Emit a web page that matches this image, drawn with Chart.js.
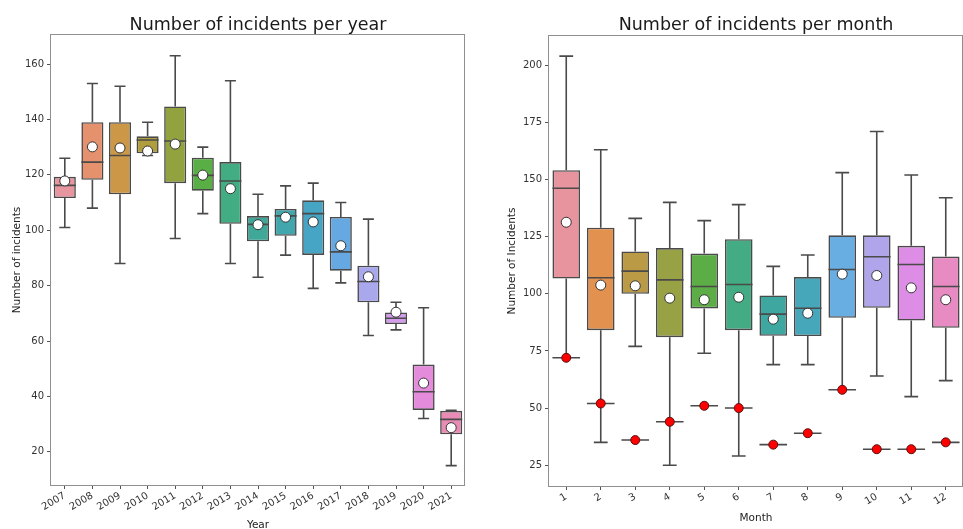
<!DOCTYPE html>
<html>
<head>
<meta charset="utf-8">
<script src="https://cdn.jsdelivr.net/npm/chart.js@4/dist/chart.umd.min.js"></script>
<style>
  html, body { margin: 0; padding: 0; background: #ffffff; width: 963px; height: 529px; overflow: hidden; }
  .panel { position: absolute; top: 0; }
</style>
</head>
<body>
<div class="panel" style="left:0px"><canvas id="yearChart" width="480" height="529"></canvas></div>
<div class="panel" style="left:480px"><canvas id="monthChart" width="483" height="529"></canvas></div>
<script>
// ---- incidents per year: box statistics ----
const years = ['2007','2008','2009','2010','2011','2012','2013','2014','2015','2016','2017','2018','2019','2020','2021'];
const yearLow    = [101, 108,  88, 127,  97, 106,  88,  83,  91,  79,  81,  62,  64,  32,  15];
const yearQ1     = [111.6, 118.2, 113, 127.8, 117, 114.3, 102.3, 96, 98, 91.1, 85.4, 74, 66.1, 35.1, 26.3];
const yearMedian = [116.2, 124.6, 127, 132.6, 132.2, 119.8, 117.8, 102.1, 105.2, 106, 92.2, 81.5, 68.2, 41.7, 31.7];
const yearQ3     = [119.3, 139, 139, 133.9, 144.7, 126.2, 124.6, 105.1, 107.7, 110.8, 104.8, 87.2, 70.3, 51.5, 34.8];
const yearHigh   = [126, 153, 152, 139, 163, 130, 154, 113, 116, 117, 110, 104, 74, 72, 35];
const yearMean   = [117.8, 130.1, 129.7, 128.6, 131.1, 119.9, 115, 102, 104.7, 103, 94.4, 83.2, 70.4, 44.8, 28.7];
const yearTicks  = [20, 40, 60, 80, 100, 120, 140, 160];
const yearColors = ['#E7969F','#E6916D','#CC9848','#B09D3E','#92A23F','#5AAE46','#42AC83','#3FA899',
                    '#41A7AD','#46A4C4','#65A8E2','#AAA8EC','#D49CEC','#E58BDC','#E88BB5'];

// ---- incidents per month: box statistics ----
const months      = ['1','2','3','4','5','6','7','8','9','10','11','12'];
const monthLow    = [72, 35, 77, 25, 74, 29, 69, 69, 58, 64, 55, 62];
const monthQ1     = [106.7, 84.1, 100, 81, 93.6, 84.1, 81.6, 81.5, 89.5, 93.9, 88.3, 85.1];
const monthMedian = [146.2, 107, 109.9, 106.1, 103.2, 104.1, 91.1, 93.7, 110.6, 116.2, 112.8, 103.2];
const monthQ3     = [154.1, 128.9, 118.5, 120, 117.6, 123.9, 99.3, 107.3, 125.6, 125.6, 121, 116.3];
const monthHigh   = [204, 163, 133, 140, 132, 139, 112, 117, 153, 171, 152, 142];
const monthMean   = [131.3, 103.8, 103.5, 98.1, 97.4, 98.5, 88.9, 91.5, 108.6, 108, 102.6, 97.4];
const month2021   = [72, 52, 36, 44, 51, 50, 34, 39, 58, 32, 32, 35];
const monthTicks  = [25, 50, 75, 100, 125, 150, 175, 200];
const monthColors = ['#E8949F','#E3914F','#BA9A44','#98A143','#5DAD46','#44AC85','#3EA7A0','#46A6BA',
                     '#69AEE2','#B0A4EA','#DE8DE6','#E78BC2'];

const LINE = '#4a4a4a';
const FONT = 'DejaVu Sans';

// Whiskers, caps, medians and single-value boxes, drawn right after the boxes
const boxParts = {
  id: 'boxParts',
  afterDatasetDraw(chart, args, opts) {
    if (args.index !== 0) return;
    const ctx = chart.ctx;
    const y = chart.scales.y;
    const meta = chart.getDatasetMeta(0);
    ctx.save();
    ctx.strokeStyle = LINE;
    ctx.lineWidth = 1.6;
    ctx.lineCap = 'butt';
    meta.data.forEach((bar, i) => {
      const cx = bar.x, w = bar.width, half = w / 2, cap = w / 4;
      const pLow = y.getPixelForValue(opts.low[i]);
      const pQ1 = y.getPixelForValue(opts.q1[i]);
      const pMed = y.getPixelForValue(opts.median[i]);
      const pQ3 = y.getPixelForValue(opts.q3[i]);
      const pHigh = y.getPixelForValue(opts.high[i]);
      ctx.beginPath();
      ctx.moveTo(cx, pQ1); ctx.lineTo(cx, pLow);
      ctx.moveTo(cx, pQ3); ctx.lineTo(cx, pHigh);
      ctx.moveTo(cx - cap, pLow); ctx.lineTo(cx + cap, pLow);
      ctx.moveTo(cx - cap, pHigh); ctx.lineTo(cx + cap, pHigh);
      ctx.moveTo(cx - half, pMed); ctx.lineTo(cx + half, pMed);
      if (opts.single) {
        const pS = y.getPixelForValue(opts.single[i]);
        ctx.moveTo(cx - half, pS); ctx.lineTo(cx + half, pS);
      }
      ctx.stroke();
    });
    ctx.restore();
  },
  afterDraw(chart, args, opts) {
    const ctx = chart.ctx;
    const a = chart.chartArea;
    ctx.save();
    ctx.strokeStyle = '#8f8f8f';
    ctx.lineWidth = 1;
    ctx.strokeRect(Math.round(a.left) - 0.5, Math.round(a.top) - 0.5,
                   Math.round(a.right - a.left), Math.round(a.bottom - a.top) + 1);
    ctx.fillStyle = '#1a1a1a';
    ctx.font = '17.5px "' + FONT + '"';
    ctx.textAlign = 'center';
    ctx.textBaseline = 'alphabetic';
    ctx.fillText(opts.title, (a.left + a.right) / 2, opts.titleY);
    ctx.restore();
  }
};

function boxChart(canvasId, cfg) {
  const datasets = [
    {
      type: 'bar',
      data: cfg.q1.map((v, i) => [v, cfg.q3[i]]),
      backgroundColor: cfg.colors,
      borderColor: LINE,
      borderWidth: 1.6,
      borderSkipped: false,
      barPercentage: 0.8,
      categoryPercentage: 1.0,
      order: 3
    },
    {
      type: 'line',
      data: cfg.mean,
      showLine: false,
      pointRadius: 5,
      pointBackgroundColor: '#ffffff',
      pointBorderColor: '#333333',
      pointBorderWidth: 1,
      order: 1
    }
  ];
  if (cfg.single) {
    datasets.push({
      type: 'line',
      data: cfg.single,
      showLine: false,
      pointRadius: 4.5,
      pointBackgroundColor: '#ff0000',
      pointBorderColor: '#5a1010',
      pointBorderWidth: 1,
      order: 2
    });
  }
  const tickFont = { family: FONT, size: 10 };
  return new Chart(document.getElementById(canvasId), {
    type: 'bar',
    data: { labels: cfg.labels, datasets },
    plugins: [boxParts],
    options: {
      responsive: false,
      devicePixelRatio: 1,
      animation: false,
      layout: { padding: cfg.padding, autoPadding: false },
      plugins: {
        legend: { display: false },
        tooltip: { enabled: false },
        boxParts: {
          low: cfg.low, q1: cfg.q1, median: cfg.median, q3: cfg.q3, high: cfg.high,
          single: cfg.single, title: cfg.title, titleY: 29.5
        }
      },
      scales: {
        x: {
          type: 'category',
          offset: true,
          grid: { offset: false, drawOnChartArea: false, drawTicks: true, tickLength: 4, color: '#555555' },
          border: { display: false },
          ticks: { font: tickFont, color: '#333333', minRotation: 30, maxRotation: 30, autoSkip: false, padding: 1 },
          title: { display: true, text: cfg.xTitle, font: { family: FONT, size: 10.5 }, color: '#222222',
                   padding: { top: 0, bottom: cfg.xTitlePad } },
          afterFit(s) { s.height = cfg.xHeight; s.paddingLeft = 0; s.paddingRight = 0; }
        },
        y: {
          type: 'linear',
          min: cfg.yMin,
          max: cfg.yMax,
          grid: { drawOnChartArea: false, drawTicks: true, tickLength: 4, color: '#555555' },
          border: { display: false },
          ticks: { font: tickFont, color: '#333333', padding: 3 },
          afterBuildTicks(s) { s.ticks = cfg.ticks.map(v => ({ value: v })); },
          title: { display: true, text: cfg.yTitle, font: { family: FONT, size: 10.5 }, color: '#222222',
                   padding: { top: cfg.yTitlePad, bottom: 0 } },
          afterFit(s) { s.width = cfg.yWidth; s.paddingTop = 0; s.paddingBottom = 0; }
        }
      }
    }
  });
}

boxChart('yearChart', {
  labels: years, low: yearLow, q1: yearQ1, median: yearMedian, q3: yearQ3, high: yearHigh,
  mean: yearMean, colors: yearColors, ticks: yearTicks,
  yMin: 8.0, yMax: 170.5,
  title: 'Number of incidents per year', xTitle: 'Year', yTitle: 'Number of incidents',
  padding: { left: 0, top: 35, right: 15, bottom: 0 },
  yWidth: 51, xHeight: 44, xTitlePad: -3, yTitlePad: 11
});

boxChart('monthChart', {
  labels: months, low: monthLow, q1: monthQ1, median: monthMedian, q3: monthQ3, high: monthHigh,
  mean: monthMean, single: month2021, colors: monthColors, ticks: monthTicks,
  yMin: 15.9, yMax: 212.8,
  title: 'Number of incidents per month', xTitle: 'Month', yTitle: 'Number of Incidents',
  padding: { left: 0, top: 36, right: 0, bottom: 0 },
  yWidth: 69, xHeight: 43, xTitlePad: 4.5, yTitlePad: 26
});
</script>
</body>
</html>
